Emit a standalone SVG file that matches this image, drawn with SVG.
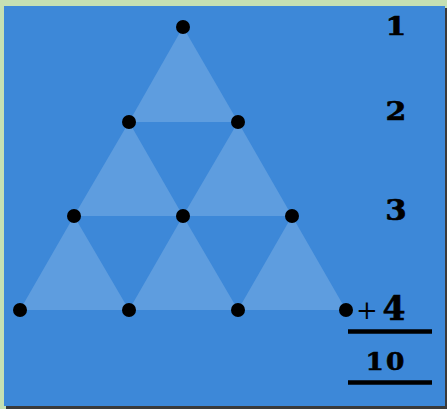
<svg xmlns="http://www.w3.org/2000/svg" width="447" height="409" viewBox="0 0 447 409">
<style>
.up{fill:#5e9ddf}
.dot{fill:#000}
.num{font-family:"DejaVu Serif","Liberation Serif",serif;font-weight:bold;fill:#000;stroke:#000;stroke-width:0.6;text-anchor:middle}
.rule{stroke:#000;stroke-width:4.5}
</style>
<rect x="0" y="0" width="447" height="409" fill="#c5e0b3"/>
<rect x="6" y="8" width="441" height="401" fill="#3a3a3a"/>
<rect x="4" y="6" width="441" height="400" fill="#3d88d8"/>
<g id="triangles">
<polygon class="up" points="183,27 129,122 238,122"/>
<polygon class="up" points="129,122 74,216 183,216"/>
<polygon class="up" points="238,122 183,216 292,216"/>
<polygon class="up" points="74,216 20,310 129,310"/>
<polygon class="up" points="183,216 129,310 238,310"/>
<polygon class="up" points="292,216 238,310 346,310"/>
</g>
<g id="dots">
<circle class="dot" cx="183" cy="27" r="7"/>
<circle class="dot" cx="129" cy="122" r="7"/>
<circle class="dot" cx="238" cy="122" r="7"/>
<circle class="dot" cx="74" cy="216" r="7"/>
<circle class="dot" cx="183" cy="216" r="7"/>
<circle class="dot" cx="292" cy="216" r="7"/>
<circle class="dot" cx="20" cy="310" r="7"/>
<circle class="dot" cx="129" cy="310" r="7"/>
<circle class="dot" cx="238" cy="310" r="7"/>
<circle class="dot" cx="346" cy="310" r="7"/>
</g>
<g id="labels">
<text class="num" x="396" y="35" font-size="26" transform="translate(396 0) scale(1.15 1) translate(-396 0)">1</text>
<text class="num" x="396" y="120" font-size="26" transform="translate(396 0) scale(1.15 1) translate(-396 0)">2</text>
<text class="num" x="396" y="220" font-size="28" transform="translate(396 0) scale(1.1 1) translate(-396 0)">3</text>
<text x="367" y="319" font-family="DejaVu Serif,Liberation Serif,serif" font-size="26" text-anchor="middle" fill="#000">+</text>
<text class="num" x="394" y="320" font-size="33">4</text>
<text class="num" x="386" y="370" font-size="24" letter-spacing="2" transform="translate(386 0) scale(1.1 1) translate(-386 0)">10</text>
<line class="rule" x1="348" y1="331.5" x2="432" y2="331.5"/>
<line class="rule" x1="348" y1="382.5" x2="432" y2="382.5"/>
</g>
</svg>
